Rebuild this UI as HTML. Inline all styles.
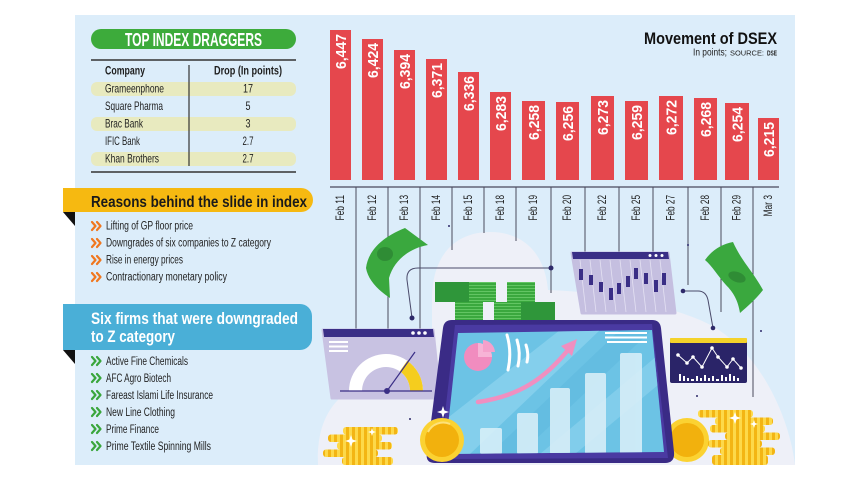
<!DOCTYPE html>
<html><head><meta charset="utf-8"><style>
html,body{margin:0;padding:0;background:#fff;}
svg{display:block;}
text{font-family:"Liberation Sans",sans-serif;}
</style></head><body>
<svg width="857" height="482" viewBox="0 0 857 482" xmlns="http://www.w3.org/2000/svg">
<defs>
<pattern id="coin" width="6" height="10" patternUnits="userSpaceOnUse">
<rect width="6" height="10" fill="#f3b514"/><rect x="1" width="3" height="10" fill="#fdd94a"/>
</pattern>
<pattern id="cash" width="10" height="3" patternUnits="userSpaceOnUse">
<rect width="10" height="3" fill="#3aa83e"/><rect y="0" width="10" height="1" fill="#62c563"/>
</pattern>
<clipPath id="scr"><polygon points="458,333 652,330 664,452 445,454"/></clipPath>
</defs>
<rect width="857" height="482" fill="#fff"/>
<rect x="75" y="15" width="720" height="450" fill="#dcedfa"/>

<!-- LEFT: table -->
<rect x="91" y="29" width="205" height="20" rx="10" fill="#3dab3b"/>
<text x="193.5" y="46" text-anchor="middle" font-size="18" font-weight="bold" fill="#fff" textLength="137" lengthAdjust="spacingAndGlyphs">TOP INDEX DRAGGERS</text>
<line x1="91" y1="60" x2="296" y2="60" stroke="#333" stroke-width="1.5"/>
<line x1="91" y1="172" x2="296" y2="172" stroke="#333" stroke-width="1.5"/>
<rect x="91" y="82" width="205" height="14" rx="6" fill="#e8eabf"/>
<rect x="91" y="117" width="205" height="14" rx="6" fill="#e8eabf"/>
<rect x="91" y="152" width="205" height="14" rx="6" fill="#e8eabf"/>
<line x1="189" y1="65" x2="189" y2="166" stroke="#333" stroke-width="1.2"/>
<g font-size="12" fill="#1e1e1e">
<text x="105" y="74.5" font-weight="bold" textLength="40" lengthAdjust="spacingAndGlyphs">Company</text>
<text x="214" y="74.5" font-weight="bold" textLength="68" lengthAdjust="spacingAndGlyphs">Drop (In points)</text>
<text x="105" y="92.5" textLength="59" lengthAdjust="spacingAndGlyphs">Grameenphone</text>
<text x="105" y="110" textLength="58" lengthAdjust="spacingAndGlyphs">Square Pharma</text>
<text x="105" y="127.5" textLength="38" lengthAdjust="spacingAndGlyphs">Brac Bank</text>
<text x="105" y="145" textLength="35" lengthAdjust="spacingAndGlyphs">IFIC Bank</text>
<text x="105" y="162.5" textLength="54" lengthAdjust="spacingAndGlyphs">Khan Brothers</text>
<text x="248" y="92.5" text-anchor="middle" textLength="10" lengthAdjust="spacingAndGlyphs">17</text>
<text x="248" y="110" text-anchor="middle" textLength="5" lengthAdjust="spacingAndGlyphs">5</text>
<text x="248" y="127.5" text-anchor="middle" textLength="5" lengthAdjust="spacingAndGlyphs">3</text>
<text x="248" y="145" text-anchor="middle" textLength="11" lengthAdjust="spacingAndGlyphs">2.7</text>
<text x="248" y="162.5" text-anchor="middle" textLength="11" lengthAdjust="spacingAndGlyphs">2.7</text>
</g>

<!-- Reasons banner -->
<path d="M63,188 H301 A12,12 0 0 1 313,200 A12,12 0 0 1 301,212 H63 Z" fill="#f6b911"/>
<path d="M63,212 L75,212 L75,226 Z" fill="#111"/>
<text x="91" y="207" font-size="16" font-weight="bold" fill="#1a1a1a" textLength="216" lengthAdjust="spacingAndGlyphs">Reasons behind the slide in index</text>
<g fill="none" stroke="#f0771f" stroke-width="2.2" stroke-linecap="round" stroke-linejoin="round">
<polyline points="92,222 95.5,226 92,230"/><polyline points="97,222 100.5,226 97,230"/>
<polyline points="92,239 95.5,243 92,247"/><polyline points="97,239 100.5,243 97,247"/>
<polyline points="92,256 95.5,260 92,264"/><polyline points="97,256 100.5,260 97,264"/>
<polyline points="92,273 95.5,277 92,281"/><polyline points="97,273 100.5,277 97,281"/>
</g>
<g font-size="11.5" fill="#1e1e1e">
<text x="106" y="229.5" textLength="87" lengthAdjust="spacingAndGlyphs">Lifting of GP floor price</text>
<text x="106" y="246.5" textLength="165" lengthAdjust="spacingAndGlyphs">Downgrades of six companies to Z category</text>
<text x="106" y="263.5" textLength="77" lengthAdjust="spacingAndGlyphs">Rise in energy prices</text>
<text x="106" y="280.5" textLength="121" lengthAdjust="spacingAndGlyphs">Contractionary monetary policy</text>
</g>

<!-- Six firms banner -->
<path d="M63,304 H300 A12,12 0 0 1 312,316 V338 A12,12 0 0 1 300,350 H63 Z" fill="#4aafd7"/>
<path d="M63,350 L75,350 L75,364 Z" fill="#111"/>
<text x="91" y="324" font-size="16.5" font-weight="bold" fill="#fff" textLength="207" lengthAdjust="spacingAndGlyphs">Six firms that were downgraded</text>
<text x="91" y="342" font-size="16.5" font-weight="bold" fill="#fff" textLength="84" lengthAdjust="spacingAndGlyphs">to Z category</text>
<g fill="none" stroke="#3aa63c" stroke-width="2.2" stroke-linecap="round" stroke-linejoin="round">
<polyline points="92,357 95.5,361 92,365"/><polyline points="97,357 100.5,361 97,365"/>
<polyline points="92,374 95.5,378 92,382"/><polyline points="97,374 100.5,378 97,382"/>
<polyline points="92,391 95.5,395 92,399"/><polyline points="97,391 100.5,395 97,399"/>
<polyline points="92,408 95.5,412 92,416"/><polyline points="97,408 100.5,412 97,416"/>
<polyline points="92,425 95.5,429 92,433"/><polyline points="97,425 100.5,429 97,433"/>
<polyline points="92,442 95.5,446 92,450"/><polyline points="97,442 100.5,446 97,450"/>
</g>
<g font-size="11.5" fill="#1e1e1e">
<text x="106" y="365" textLength="82" lengthAdjust="spacingAndGlyphs">Active Fine Chemicals</text>
<text x="106" y="382" textLength="65" lengthAdjust="spacingAndGlyphs">AFC Agro Biotech</text>
<text x="106" y="399" textLength="107" lengthAdjust="spacingAndGlyphs">Fareast Islami Life Insurance</text>
<text x="106" y="416" textLength="69" lengthAdjust="spacingAndGlyphs">New Line Clothing</text>
<text x="106" y="433" textLength="53" lengthAdjust="spacingAndGlyphs">Prime Finance</text>
<text x="106" y="450" textLength="105" lengthAdjust="spacingAndGlyphs">Prime Textile Spinning Mills</text>
</g>

<!-- Title -->
<text x="777" y="44" text-anchor="end" font-size="17" font-weight="bold" fill="#111" textLength="133" lengthAdjust="spacingAndGlyphs">Movement of DSEX</text>
<text x="693" y="55.5" font-size="10.5" fill="#222" textLength="34" lengthAdjust="spacingAndGlyphs">In points;</text>
<text x="730" y="55.5" font-size="7" fill="#222" textLength="34" lengthAdjust="spacingAndGlyphs">SOURCE:</text>
<text x="767" y="55.5" font-size="7" font-weight="bold" fill="#222" textLength="10" lengthAdjust="spacingAndGlyphs">DSE</text>

<!-- Illustration background cloud -->
<path d="M318,465 C316,410 340,375 432,365 L432,300 C432,250 460,232 490,232 C525,232 545,255 548,290 C600,292 650,300 700,320 C760,345 790,420 795,465 Z" fill="#eef0f8"/>

<!-- vertical lines -->
<g stroke="#4a4a5c" stroke-width="1">
<line x1="330" y1="187" x2="779" y2="187" stroke-width="1.2"/>
<line x1="356" y1="187" x2="356" y2="330"/>
<line x1="388" y1="187" x2="388" y2="330"/>
<line x1="420" y1="187" x2="420" y2="330"/>
<line x1="452" y1="187" x2="452" y2="250"/>
<line x1="484" y1="187" x2="484" y2="233"/>
<line x1="516" y1="187" x2="516" y2="241"/>
<line x1="551" y1="187" x2="551" y2="293"/>
<line x1="585" y1="187" x2="585" y2="253"/>
<line x1="619" y1="187" x2="619" y2="253"/>
<line x1="653" y1="187" x2="653" y2="253"/>
<line x1="688" y1="187" x2="688" y2="285"/>
<line x1="721" y1="187" x2="721" y2="312"/>
<line x1="753" y1="187" x2="753" y2="397"/>
</g>
<path d="M412,318 L407,280 Q406,268 418,268 L551,268" fill="none" stroke="#4a4a6a" stroke-width="1"/>
<path d="M683,291 L698,291 Q706,291 708,300 L713,328" fill="none" stroke="#4a4a6a" stroke-width="1"/>
<g fill="#2e2a6a">
<circle cx="412" cy="318" r="2.5"/><circle cx="551" cy="268" r="2.5"/>
<circle cx="683" cy="291" r="2.3"/><circle cx="713" cy="328" r="2.3"/>
<circle cx="449" cy="226" r="1"/><circle cx="410" cy="419" r="1"/><circle cx="761" cy="331" r="1"/><circle cx="697" cy="396" r="1"/><circle cx="688" cy="245" r="1"/>
</g>

<!-- Bars -->
<g fill="#e5474d">
<rect x="330" y="30" width="21" height="150"/>
<rect x="362" y="39" width="21" height="141"/>
<rect x="394" y="50" width="21" height="130"/>
<rect x="426" y="59" width="21" height="121"/>
<rect x="458" y="72" width="21" height="108"/>
<rect x="490" y="92" width="21" height="88"/>
<rect x="522" y="101" width="23" height="79"/>
<rect x="556" y="102" width="23" height="78"/>
<rect x="591" y="96" width="23" height="84"/>
<rect x="625" y="101" width="23" height="79"/>
<rect x="659" y="96" width="24" height="84"/>
<rect x="694" y="98" width="23" height="82"/>
<rect x="725" y="103" width="24" height="77"/>
<rect x="758" y="118" width="21" height="62"/>
</g>
<g font-size="15" font-weight="bold" fill="#fff" text-anchor="end">
<text transform="translate(345.8,34) rotate(-90)" textLength="35" lengthAdjust="spacingAndGlyphs">6,447</text>
<text transform="translate(377.8,43) rotate(-90)" textLength="35" lengthAdjust="spacingAndGlyphs">6,424</text>
<text transform="translate(409.8,54) rotate(-90)" textLength="35" lengthAdjust="spacingAndGlyphs">6,394</text>
<text transform="translate(441.8,63) rotate(-90)" textLength="35" lengthAdjust="spacingAndGlyphs">6,371</text>
<text transform="translate(473.8,76) rotate(-90)" textLength="35" lengthAdjust="spacingAndGlyphs">6,336</text>
<text transform="translate(505.8,96) rotate(-90)" textLength="35" lengthAdjust="spacingAndGlyphs">6,283</text>
<text transform="translate(538.8,105) rotate(-90)" textLength="35" lengthAdjust="spacingAndGlyphs">6,258</text>
<text transform="translate(572.8,106) rotate(-90)" textLength="35" lengthAdjust="spacingAndGlyphs">6,256</text>
<text transform="translate(607.8,100) rotate(-90)" textLength="35" lengthAdjust="spacingAndGlyphs">6,273</text>
<text transform="translate(641.8,105) rotate(-90)" textLength="35" lengthAdjust="spacingAndGlyphs">6,259</text>
<text transform="translate(676.3,100) rotate(-90)" textLength="35" lengthAdjust="spacingAndGlyphs">6,272</text>
<text transform="translate(710.8,102) rotate(-90)" textLength="35" lengthAdjust="spacingAndGlyphs">6,268</text>
<text transform="translate(742.3,107) rotate(-90)" textLength="35" lengthAdjust="spacingAndGlyphs">6,254</text>
<text transform="translate(773.8,122) rotate(-90)" textLength="35" lengthAdjust="spacingAndGlyphs">6,215</text>
</g>
<g font-size="12" fill="#1e1e1e" text-anchor="end">
<text transform="translate(343.8,195) rotate(-90)" textLength="25.5" lengthAdjust="spacingAndGlyphs">Feb 11</text>
<text transform="translate(375.8,195) rotate(-90)" textLength="25.5" lengthAdjust="spacingAndGlyphs">Feb 12</text>
<text transform="translate(407.8,195) rotate(-90)" textLength="25.5" lengthAdjust="spacingAndGlyphs">Feb 13</text>
<text transform="translate(439.8,195) rotate(-90)" textLength="25.5" lengthAdjust="spacingAndGlyphs">Feb 14</text>
<text transform="translate(471.8,195) rotate(-90)" textLength="25.5" lengthAdjust="spacingAndGlyphs">Feb 15</text>
<text transform="translate(503.8,195) rotate(-90)" textLength="25.5" lengthAdjust="spacingAndGlyphs">Feb 18</text>
<text transform="translate(536.8,195) rotate(-90)" textLength="25.5" lengthAdjust="spacingAndGlyphs">Feb 19</text>
<text transform="translate(570.8,195) rotate(-90)" textLength="25.5" lengthAdjust="spacingAndGlyphs">Feb 20</text>
<text transform="translate(605.8,195) rotate(-90)" textLength="25.5" lengthAdjust="spacingAndGlyphs">Feb 22</text>
<text transform="translate(639.8,195) rotate(-90)" textLength="25.5" lengthAdjust="spacingAndGlyphs">Feb 25</text>
<text transform="translate(674.3,195) rotate(-90)" textLength="25.5" lengthAdjust="spacingAndGlyphs">Feb 27</text>
<text transform="translate(708.8,195) rotate(-90)" textLength="25.5" lengthAdjust="spacingAndGlyphs">Feb 28</text>
<text transform="translate(740.3,195) rotate(-90)" textLength="25.5" lengthAdjust="spacingAndGlyphs">Feb 29</text>
<text transform="translate(771.8,195) rotate(-90)" textLength="21.5" lengthAdjust="spacingAndGlyphs">Mar 3</text>
</g>

<!-- left money bill -->
<path d="M366,268 C368,252 380,238 405,228 L428,245 C410,248 394,260 389,278 L390,298 C378,290 368,280 366,268 Z" fill="#3aa83e"/>
<ellipse cx="385" cy="254" rx="8" ry="7" fill="#2f8c35"/>
<!-- right money bill -->
<path d="M705,260 C712,250 722,244 733,242 C742,262 752,270 763,290 C755,300 748,306 740,313 C738,300 733,292 726,285 C718,276 712,266 705,260 Z" fill="#3aa83e"/>
<ellipse cx="737" cy="277" rx="9" ry="5" fill="#2f8c35" transform="rotate(20 737 277)"/>

<!-- cash stacks -->
<rect x="435" y="282" width="61" height="20" fill="url(#cash)"/>
<rect x="435" y="282" width="34" height="20" fill="#2f963a"/>
<rect x="507" y="282" width="28" height="20" fill="url(#cash)"/>
<rect x="455" y="302" width="28" height="20" fill="url(#cash)"/>
<rect x="494" y="302" width="61" height="20" fill="url(#cash)"/>
<rect x="521" y="302" width="34" height="20" fill="#2f963a"/>

<!-- gauge window -->
<polygon points="323,330 433,330 440,398 332,398" fill="#c8c2e2" stroke="#c8c2e2" stroke-width="3" stroke-linejoin="round"/>
<polygon points="323,329 433,329 434,337 324,337" fill="#3a2e86"/>
<g fill="#fff"><circle cx="413" cy="333" r="1.8"/><circle cx="419" cy="333" r="1.8"/><circle cx="425" cy="333" r="1.8"/></g>
<g stroke="#fff" stroke-width="2"><line x1="329" y1="342" x2="348" y2="342"/><line x1="329" y1="346.5" x2="348" y2="346.5"/><line x1="329" y1="351" x2="348" y2="351"/></g>
<path d="M349,391 A37,37 0 0 1 423,391 L410,391 A24,24 0 0 0 362,391 Z" fill="#fff"/>
<path d="M407.2,360.7 A37,37 0 0 1 423,391 L410,391 A24,24 0 0 0 399.8,371.3 Z" fill="#f5cd1e"/>
<line x1="340" y1="391" x2="432" y2="391" stroke="#3a2e86" stroke-width="1.2"/>
<line x1="387" y1="391" x2="415" y2="352" stroke="#3a2e86" stroke-width="1.2"/>
<circle cx="387" cy="391" r="3" fill="#3a2e86"/>

<!-- candlestick window -->
<polygon points="572,253 668,253 675,313 582,313" fill="#c5bfe0" stroke="#c5bfe0" stroke-width="3" stroke-linejoin="round"/>
<g stroke="#e4e1f2" stroke-width="0.8">
<line x1="580" y1="260" x2="586" y2="312"/><line x1="590" y1="260" x2="596" y2="312"/><line x1="600" y1="260" x2="606" y2="312"/><line x1="610" y1="260" x2="616" y2="312"/><line x1="620" y1="260" x2="626" y2="312"/><line x1="630" y1="260" x2="636" y2="312"/><line x1="640" y1="260" x2="646" y2="312"/><line x1="650" y1="260" x2="656" y2="312"/><line x1="660" y1="260" x2="666" y2="312"/>
</g>
<polygon points="572,252 668,252 669,259 573,259" fill="#3a2e86"/>
<g fill="#fff"><circle cx="650" cy="255.5" r="1.5"/><circle cx="656" cy="255.5" r="1.5"/><circle cx="662" cy="255.5" r="1.5"/></g>
<g fill="#3a2e86">
<rect x="579" y="269" width="4" height="11"/><rect x="589" y="275" width="4" height="10"/><rect x="599" y="282" width="4" height="10"/><rect x="609" y="288" width="4" height="12"/><rect x="617" y="283" width="4" height="11"/><rect x="626" y="276" width="4" height="11"/><rect x="634" y="268" width="4" height="11"/><rect x="644" y="273" width="4" height="11"/><rect x="654" y="280" width="4" height="12"/><rect x="662" y="273" width="4" height="12"/>
</g>

<!-- line chart window -->
<rect x="670" y="338" width="77" height="45" rx="2" fill="#2a2468"/>
<rect x="670" y="338" width="77" height="5" rx="1" fill="#f4d22a"/>
<polyline points="678,355 687,363 693,357 702,367 712,348 718,357 727,367 733,359 741,368" fill="none" stroke="#fff" stroke-width="1"/>
<g fill="#fff">
<circle cx="678" cy="355" r="1.8"/><circle cx="687" cy="363" r="1.8"/><circle cx="693" cy="357" r="1.8"/><circle cx="702" cy="367" r="1.8"/><circle cx="712" cy="348" r="1.8"/><circle cx="718" cy="357" r="1.8"/><circle cx="727" cy="367" r="1.8"/><circle cx="733" cy="359" r="1.8"/><circle cx="741" cy="368" r="1.8"/>
<rect x="679" y="374" width="2" height="7"/><rect x="683" y="376" width="2" height="5"/><rect x="687" y="378" width="2" height="3"/><rect x="691" y="379" width="3" height="2"/><rect x="696" y="376" width="2" height="5"/><rect x="700" y="378" width="2" height="3"/><rect x="704" y="375" width="2" height="6"/><rect x="708" y="378" width="2" height="3"/><rect x="712" y="376" width="2" height="5"/><rect x="716" y="379" width="3" height="2"/><rect x="721" y="375" width="2" height="6"/><rect x="725" y="377" width="2" height="4"/><rect x="729" y="374" width="2" height="7"/><rect x="733" y="376" width="2" height="5"/><rect x="737" y="378" width="2" height="3"/>
</g>

<!-- right big coin (behind tablet) -->
<circle cx="687" cy="440" r="22" fill="#fbd232"/>
<circle cx="687" cy="440" r="17" fill="#f2b10d"/>

<!-- tablet -->
<path d="M452,320 L652,320 Q660,320 661,328 L674,452 Q675,463 665,463 L435,463 Q425,463 427,453 L443,328 Q444,320 452,320 Z" fill="#3a2b86"/>
<path d="M455,325 L652,324 L668,458 L440,459 Z" fill="#4a3aa2"/>
<polygon points="458,333 652,330 664,452 445,454" fill="#6cc3e5"/>
<g clip-path="url(#scr)">
<polygon points="445,420 560,330 600,330 470,454 445,454" fill="#8fd4ef" opacity="0.7"/>
<polygon points="540,454 664,350 664,380 575,454" fill="#8fd4ef" opacity="0.6"/>
<polygon points="620,330 652,330 520,454 490,454" fill="#5cb7dd" opacity="0.5"/>
<g fill="#d6eef8" opacity="0.9">
<rect x="480" y="428" width="22" height="26" rx="2"/>
<rect x="517" y="413" width="21" height="41" rx="2"/>
<rect x="550" y="388" width="20" height="66" rx="2"/>
<rect x="585" y="373" width="21" height="81" rx="2"/>
<rect x="620" y="353" width="22" height="101" rx="2"/>
</g>
</g>
<circle cx="478" cy="357" r="14" fill="#f18cbf"/>
<path d="M478,357 L478,343 A14,14 0 0 1 492,357 Z" fill="#f7b3d6"/>
<path d="M483,352 L483,340 A13,13 0 0 1 495,352 Z" fill="#f5a0cb"/>
<g stroke="#fff" stroke-width="3" stroke-linecap="round" fill="none">
<path d="M507,335 Q512,352 508,370"/><path d="M517,340 Q521,353 518,366"/><path d="M526,345 Q529,354 527,362"/>
</g>
<path d="M478,402 C520,396 545,378 568,350" fill="none" stroke="#f08fc0" stroke-width="4.5" stroke-linecap="round"/>
<polygon points="577,339 572,356 561,346" fill="#f08fc0"/>
<g stroke="#fff" stroke-width="2"><line x1="605" y1="333" x2="647" y2="333"/><line x1="605" y1="337.5" x2="647" y2="337.5"/><line x1="607" y1="342" x2="647" y2="342"/></g>

<!-- left coin stack -->
<g>
<rect x="343" y="427" width="55" height="7.5" rx="3" fill="url(#coin)"/>
<rect x="328" y="434.5" width="54" height="7.5" rx="3" fill="url(#coin)"/>
<rect x="337" y="442" width="55" height="7.5" rx="3" fill="url(#coin)"/>
<rect x="323" y="449.5" width="55" height="7.5" rx="3" fill="url(#coin)"/>
<rect x="342" y="457" width="51" height="8" rx="3" fill="url(#coin)"/>
</g>
<!-- left big coin -->
<circle cx="442" cy="440" r="22" fill="#fbd232"/>
<circle cx="442" cy="440" r="17" fill="#f2b10d"/>
<path d="M428,432 A17,17 0 0 1 450,424" fill="none" stroke="#fde27a" stroke-width="2"/>

<!-- right coin stack -->
<g>
<rect x="698" y="410" width="55" height="7.5" rx="3" fill="url(#coin)"/>
<rect x="715" y="417.5" width="58" height="7.5" rx="3" fill="url(#coin)"/>
<rect x="710" y="425" width="55" height="7.5" rx="3" fill="url(#coin)"/>
<rect x="725" y="432.5" width="55" height="7.5" rx="3" fill="url(#coin)"/>
<rect x="708" y="440" width="54" height="7.5" rx="3" fill="url(#coin)"/>
<rect x="720" y="447.5" width="55" height="7.5" rx="3" fill="url(#coin)"/>
<rect x="712" y="455" width="56" height="10" rx="3" fill="url(#coin)"/>
</g>

<!-- sparkles -->
<g fill="#fff">
<path d="M351,435 L352.5,439.5 L357,441 L352.5,442.5 L351,447 L349.5,442.5 L345,441 L349.5,439.5 Z"/>
<path d="M372,428 L373,431 L376,432 L373,433 L372,436 L371,433 L368,432 L371,431 Z"/>
<path d="M443,406 L444.5,410.5 L449,412 L444.5,413.5 L443,418 L441.5,413.5 L437,412 L441.5,410.5 Z"/>
<path d="M735,412 L736.5,416.5 L741,418 L736.5,419.5 L735,424 L733.5,419.5 L729,418 L733.5,416.5 Z"/>
<path d="M754,420 L755,423 L758,424 L755,425 L754,428 L753,425 L750,424 L753,423 Z"/>
</g>
</svg>
</body></html>
